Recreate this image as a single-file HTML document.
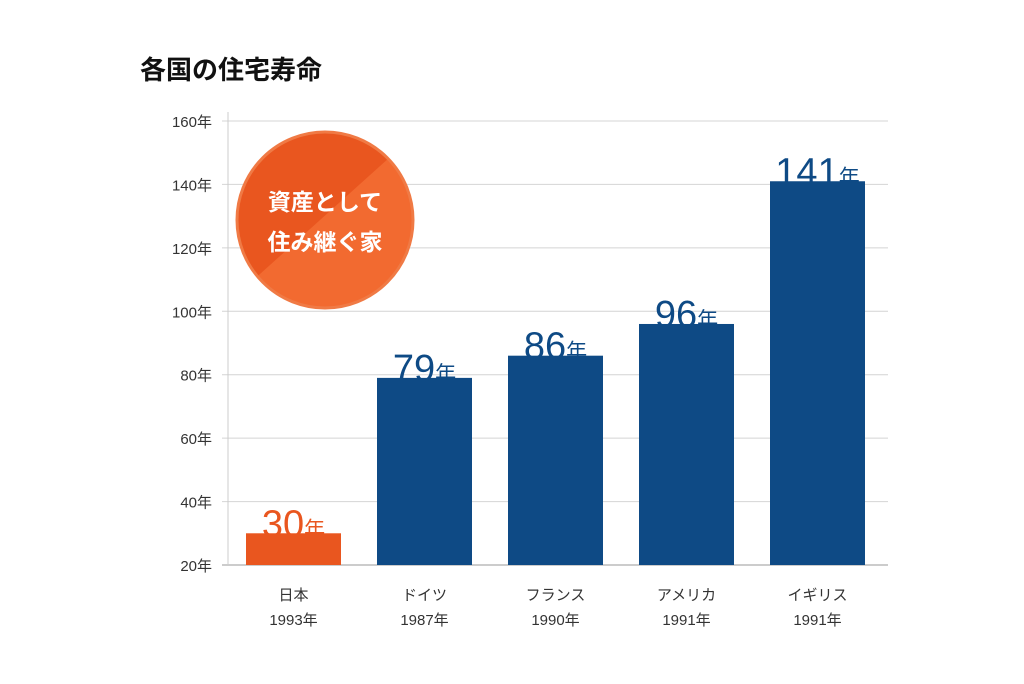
<!DOCTYPE html>
<html><head><meta charset="utf-8"><style>
body{margin:0;background:#fff;}
svg{display:block;font-family:"Liberation Sans","Noto Sans CJK JP",sans-serif;}
</style></head><body>
<svg width="1024" height="684" viewBox="0 0 1024 684">
<text x="140" y="79" font-size="26" font-weight="bold" fill="#111">各国の住宅寿命</text>
<g id="grid"></g>
<g id="bars"></g>
<g>
<defs><clipPath id="cc"><circle cx="325" cy="220" r="88"/></clipPath></defs>
<circle cx="325" cy="220" r="88" fill="#e9561f"/>
<polygon points="420,130 420,320 220,320 220,310" fill="#f26a30" clip-path="url(#cc)"/>
<circle cx="325" cy="220" r="88" fill="none" stroke="#f07a45" stroke-width="3"/>
<text x="325" y="210" text-anchor="middle" font-size="23" font-weight="bold" fill="#fff">資産として</text>
<text x="325" y="250" text-anchor="middle" font-size="23" font-weight="bold" fill="#fff">住み継ぐ家</text>
</g>
</svg>
<script>
const categories=["日本","ドイツ","フランス","アメリカ","イギリス"];
const years=["1993年","1987年","1990年","1991年","1991年"];
const values=[30,79,86,96,141];
const ticks=[20,40,60,80,100,120,140,160];
const NS="http://www.w3.org/2000/svg";
const y0=565,y1=121,vmin=20,vmax=160;
const y=v=>y0-(v-vmin)/(vmax-vmin)*(y0-y1);
const x=i=>228+18+i*131;
const bw=95;
function mk(t,a,p){const e=document.createElementNS(NS,t);for(const k in a)e.setAttribute(k,a[k]);p.appendChild(e);return e;}
const g=document.getElementById('grid'),b=document.getElementById('bars');
ticks.forEach(v=>{
 const l=mk('line',{x1:222,x2:888,y1:y(v),y2:y(v),stroke:v==20?'#999':'#d4d4d4','stroke-width':1},g);
 
 
 const t=mk('text',{x:212,y:y(v)+6,'text-anchor':'end','font-size':15,fill:'#333'},g);
 t.textContent=v+'年';
 
 
});
const ax=mk('line',{x1:228,x2:228,y1:112,y2:565,stroke:'#ccc'},g);


values.forEach((v,i)=>{
 const c=i==0?'#e9561f':'#0e4a85';
 const r=mk('rect',{x:x(i),y:y(v),width:bw,height:y0-y(v),fill:c},b);
 
 
 const t=mk('text',{x:x(i)+bw/2,y:y(v)+3,'text-anchor':'middle',fill:c},b);
 t.innerHTML='<tspan font-size="38">'+v+'</tspan><tspan font-size="21">年</tspan>';
 
 
 const c1=mk('text',{x:x(i)+bw/2,y:600,'text-anchor':'middle','font-size':15,fill:'#333'},b);
 c1.textContent=categories[i];
 
 
 const c2=mk('text',{x:x(i)+bw/2,y:625,'text-anchor':'middle','font-size':15,fill:'#333'},b);
 c2.textContent=years[i];
 
 
});
</script>
</body></html>
